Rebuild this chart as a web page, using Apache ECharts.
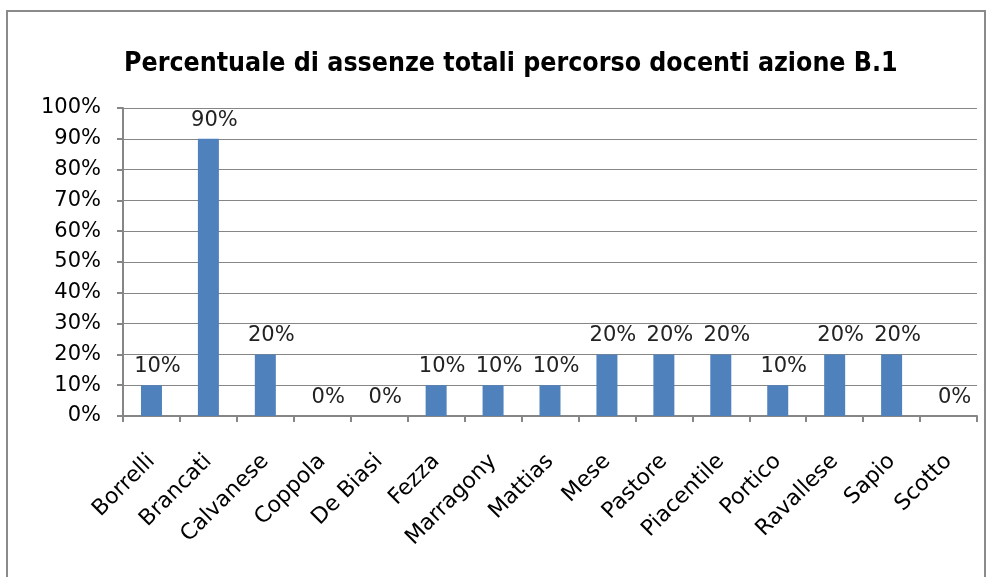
<!DOCTYPE html>
<html>
<head>
<meta charset="utf-8">
<script src="https://cdn.jsdelivr.net/npm/echarts@6/dist/echarts.min.js"></script>
<style>
  html, body { margin: 0; padding: 0; background: #fff; }
  #chart { width: 993px; height: 577px; }
  .frame { position: absolute; left: 6px; top: 10px; width: 980px; height: 580px; border: 2px solid #8a8a8a; box-sizing: border-box; pointer-events: none; }
</style>
</head>
<body>
<div id="chart"></div>
<div class="frame"></div>
<script>
// dati del grafico
const docenti = ['Borrelli', 'Brancati', 'Calvanese', 'Coppola', 'De Biasi', 'Fezza', 'Marragony',
  'Mattias', 'Mese', 'Pastore', 'Piacentile', 'Portico', 'Ravallese', 'Sapio', 'Scotto']
const assenze = [10, 90, 20, 0, 0, 10, 10, 10, 20, 20, 20, 10, 20, 20, 0]

const titleFont = '"DejaVu Sans Condensed", "Liberation Sans Narrow", sans-serif'
const font = '"DejaVu Sans", sans-serif'

const chart = echarts.init(document.getElementById('chart'))
chart.setOption({
  animation: false,
  title: {
    text: 'Percentuale di assenze totali percorso docenti azione B.1',
    left: 119,
    top: 46,
    textStyle: { fontFamily: titleFont, fontSize: 26.5, fontWeight: 'bold', color: '#000' }
  },
  grid: { left: 123, right: 16, top: 108, bottom: 161 },
  xAxis: {
    type: 'category',
    data: docenti,
    axisLine: { lineStyle: { color: '#868686', width: 2 } },
    axisTick: { show: true, length: 6, lineStyle: { color: '#868686', width: 2 } },
    axisLabel: { rotate: 45, fontFamily: font, fontSize: 22, color: '#000', margin: 42, interval: 0 }
  },
  yAxis: {
    type: 'value',
    min: 0,
    max: 100,
    interval: 10,
    axisLine: { show: true, lineStyle: { color: '#868686', width: 2 } },
    axisTick: { show: true, length: 6, lineStyle: { color: '#868686', width: 2 } },
    splitLine: { lineStyle: { color: '#868686', width: 1 } },
    axisLabel: { formatter: '{value}%', fontFamily: font, fontSize: 21, color: '#000', margin: 22 }
  },
  series: [{
    type: 'bar',
    data: assenze,
    barWidth: 21,
    itemStyle: { color: '#4f81bd' },
    label: {
      show: true,
      position: 'top',
      formatter: '{c}%',
      fontFamily: font,
      fontSize: 21,
      color: '#222',
      distance: 8,
      offset: [6, 0]
    }
  }]
})
</script>
</body>
</html>
